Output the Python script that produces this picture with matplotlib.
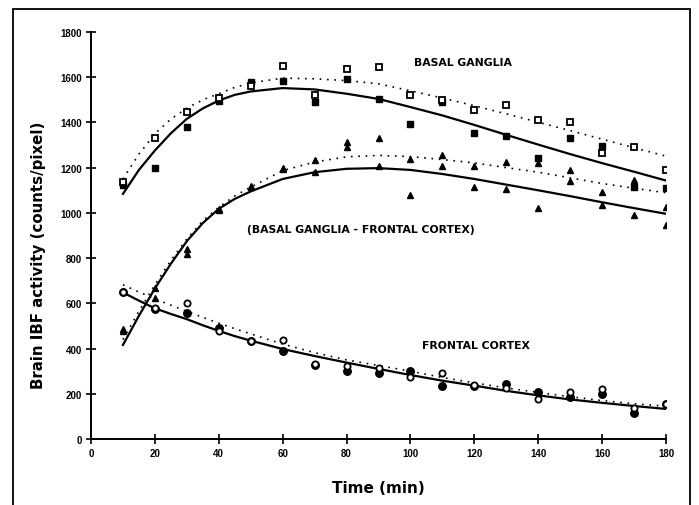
"""Brain IBF activity vs time: basal ganglia, frontal cortex and their difference."""

import matplotlib

matplotlib.use("Agg")
import matplotlib.pyplot as plt
from matplotlib.patches import Rectangle

plt.rcParams["font.family"] = ["Liberation Sans", "DejaVu Sans"]

# measured points (min)
T = [10, 20, 30, 40, 50, 60, 70, 80, 90, 100, 110, 120, 130, 140, 150, 160, 170, 180]

BG_OPEN = [1138, 1332, 1444, 1509, 1561, 1648, 1521, 1637, 1646, 1522, 1500, 1454,
           1475, 1410, 1400, 1264, 1292, 1190]
BG_FILLED = [1125, 1200, 1382, 1497, 1580, 1584, 1491, 1593, 1504, 1391, 1490, 1355,
             1342, 1242, 1333, 1297, 1114, 1108]

DIFF_A = [485, 667, 841, 1018, 1121, 1198, 1235, 1313, 1330, 1239, 1254, 1209,
          1227, 1221, 1190, 1092, 1146, 1025]
DIFF_B = [478, 623, 816, 1012, 1116, 1192, 1180, 1293, 1209, 1080, 1208, 1114,
          1106, 1021, 1140, 1037, 991, 948]

FC_OPEN = [650, 578, 600, 478, 433, 437, 330, 324, 313, 273, 291, 238,
           224, 177, 209, 221, 137, 157]
FC_FILLED = [649, 575, 556, 490, 432, 388, 327, 300, 291, 302, 233, 236,
             243, 209, 187, 199, 115, 155]

# fitted curves
FIT_T = [10, 15, 20, 25, 30, 35, 40, 45, 50, 60, 70, 80, 90, 100, 110, 120,
         130, 140, 150, 160, 170, 180]
BG_SOLID = [1084, 1190, 1276, 1352, 1416, 1462, 1497, 1522, 1537, 1552, 1546, 1527,
            1504, 1468, 1431, 1389, 1345, 1302, 1260, 1220, 1182, 1143]
BG_DOTTED = [1150, 1260, 1350, 1415, 1463, 1500, 1527, 1555, 1575, 1596, 1593, 1585,
             1571, 1540, 1508, 1474, 1438, 1401, 1364, 1326, 1288, 1251]
DIFF_SOLID = [416, 545, 666, 775, 875, 955, 1018, 1062, 1095, 1150, 1180, 1195,
              1198, 1190, 1172, 1150, 1125, 1100, 1074, 1047, 1021, 996]
DIFF_DOTTED = [440, 565, 682, 790, 885, 965, 1025, 1075, 1114, 1187, 1225, 1248,
               1254, 1249, 1236, 1221, 1200, 1180, 1155, 1130, 1109, 1089]
FC_SOLID = [648, 612, 578, 553, 530, 503, 478, 455, 435, 398, 367, 338,
            310, 283, 258, 236, 213, 193, 175, 160, 146, 133]
FC_DOTTED = [682, 650, 620, 592, 565, 538, 512, 488, 465, 420, 382, 350,
             325, 300, 272, 248, 226, 206, 187, 170, 156, 145]

fig = plt.figure(figsize=(6.99, 5.06), dpi=100)
ax = fig.add_axes([0.1302, 0.1304, 0.8226, 0.8044])

# outer frame
fig.patches.append(Rectangle((0.0186, -0.02), 0.9685, 0.9998, transform=fig.transFigure,
                             fill=False, lw=1.3, ec="black"))

solid = dict(color="black", lw=1.6)
dotted = dict(color="black", lw=1.2, ls=(0, (1, 3.4)))
ax.plot(FIT_T, BG_SOLID, **solid)
ax.plot(FIT_T, BG_DOTTED, **dotted)
ax.plot(FIT_T, DIFF_SOLID, **solid)
ax.plot(FIT_T, DIFF_DOTTED, **dotted)
ax.plot(FIT_T, FC_SOLID, **solid)
ax.plot(FIT_T, FC_DOTTED, **dotted)

ax.plot(T, BG_FILLED, "s", color="black", ms=4.5, ls="none")
ax.plot(T, BG_OPEN, "s", mfc="white", mec="black", mew=1.3, ms=4.5, ls="none")
ax.plot(T, DIFF_A, "^", color="black", ms=4.8, ls="none")
ax.plot(T, DIFF_B, "^", color="black", ms=4.8, ls="none")
ax.plot(T, FC_FILLED, "o", color="black", ms=5.4, ls="none")
ax.plot(T, FC_OPEN, "o", mfc="white", mec="black", mew=1.3, ms=4.5, ls="none")

lab_font = dict(family="DejaVu Sans", fontsize=7.8, fontweight="bold",
                ha="center", va="center")
ax.text(116.5, 1668, "BASAL GANGLIA", **lab_font)
ax.text(84.5, 929, "(BASAL GANGLIA - FRONTAL CORTEX)", **lab_font)
ax.text(120.5, 417, "FRONTAL CORTEX", **lab_font)

ax.set_xlim(0, 180)
ax.set_ylim(0, 1800)
ax.set_xticks(range(0, 181, 20))
ax.set_yticks(range(0, 1801, 200))
ax.spines["top"].set_visible(False)
ax.spines["right"].set_visible(False)
for s in ("left", "bottom"):
    ax.spines[s].set_linewidth(1.4)
ax.tick_params(direction="inout", length=7, width=1.2, labelsize=7, pad=3)
for lab in ax.get_xticklabels() + ax.get_yticklabels():
    lab.set_fontweight("bold")

ax.set_xlabel("Time (min)", family="DejaVu Sans", fontsize=11,
              fontweight="bold", labelpad=16)
ax.set_ylabel("Brain IBF activity (counts/pixel)", family="DejaVu Sans",
              fontsize=10.8, fontweight="bold")
ax.yaxis.set_label_coords(-0.079, 0.455)

fig.savefig("out.png", dpi=100)
